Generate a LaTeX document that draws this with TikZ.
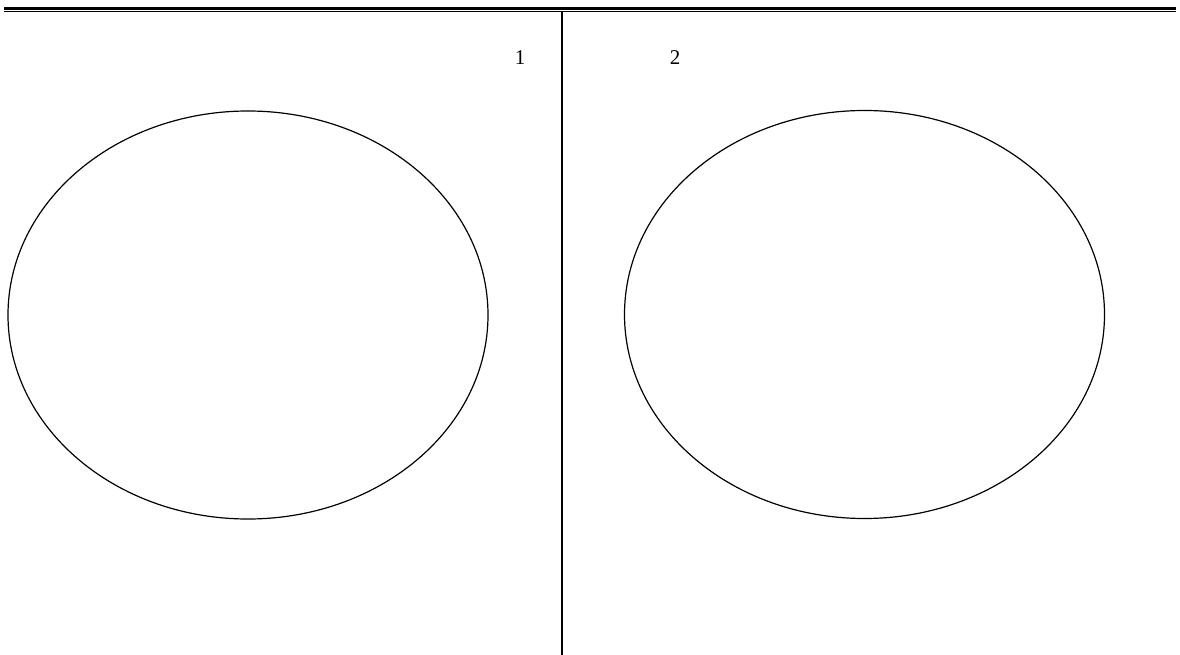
\documentclass[tikz,border=0pt]{standalone}
\usepackage{fontspec}
\setmainfont{Liberation Serif}
\usetikzlibrary{shapes.geometric}
\begin{document}
\begin{tikzpicture}[x=1pt, y=-1pt, line cap=butt,
    oval/.style={draw, ellipse, line width=1.2pt, inner sep=0pt,
      minimum width=480pt, minimum height=408pt},
    lab/.style={inner sep=1pt, font=\fontsize{21}{24}\selectfont},
    rule/.style={line width=1.5pt}]
  \useasboundingbox (0,0) rectangle (1180,655);
  % header rules
  \draw[line width=2.4pt] (4,8.6) -- (1176,8.6);
  \draw[line width=1.2pt] (4,11.6) -- (1176,11.6);
  % divider
  \coordinate (top) at (562,12);
  \coordinate (bot) at (562,655);
  \draw[rule] (top) -- (bot);
  \node[lab] (one) at (520,58) {1};
  \node[lab] (two) at (675,58) {2};
  \node[oval] (left) at (248,315) {};
  \node[oval] (right) at (864.5,314.5) {};
\end{tikzpicture}
\end{document}
